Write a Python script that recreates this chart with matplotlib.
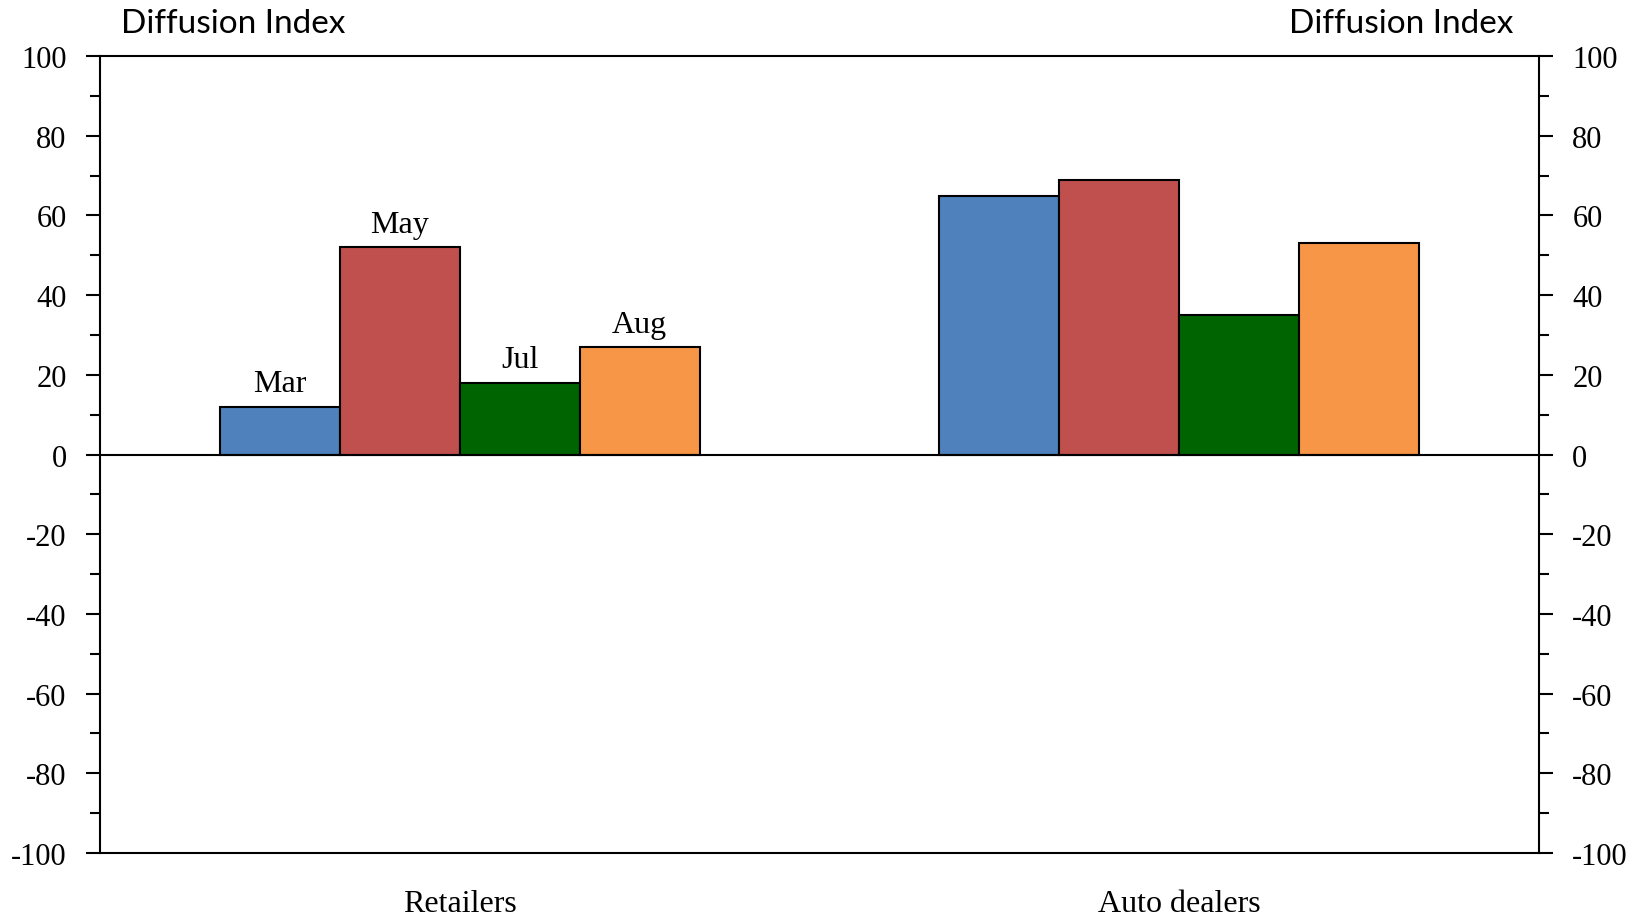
import numpy as np
import matplotlib
matplotlib.use("Agg")
import matplotlib.pyplot as plt
from matplotlib.ticker import MultipleLocator

plt.rcParams["axes.unicode_minus"] = False

# data
categories = ["Retailers", "Auto dealers"]
months = ["Mar", "May", "Jul", "Aug"]
mar = [12, 65]
may = [52, 69]
jul = [18, 35]
aug = [27, 53]
colors = ["#4F81BD", "#C0504D", "#006400", "#F79646"]

series = [mar, may, jul, aug]

fig = plt.figure(figsize=(16.37, 9.2), dpi=100)
ax = fig.add_axes([0.0611, 0.0717, 0.9401 - 0.0611, 0.938 - 0.0717])

x = np.arange(len(categories))
w = 1 / 6
for i, (vals, c) in enumerate(zip(series, colors)):
    pos = x + (i - 1.5) * w
    ax.bar(pos, vals, width=w, color=c, edgecolor="black", linewidth=1.5, zorder=2)
    # month labels only over the first group
    ax.annotate(months[i], (pos[0], vals[0]), xytext=(0, 6), textcoords="offset points",
                ha="center", va="bottom", fontsize=23, family="Liberation Serif")

ax.axhline(0, color="black", linewidth=1.5, zorder=3)
ax.set_xlim(-0.5, 1.5)
ax.set_ylim(-100, 100)

ax.yaxis.set_major_locator(MultipleLocator(20))
ax.yaxis.set_minor_locator(MultipleLocator(10))
ax.tick_params(axis="y", which="major", direction="out", length=10, width=1.5,
               labelsize=22, pad=14, left=True, right=True, labelleft=True, labelright=True)
ax.tick_params(axis="y", which="minor", direction="out", length=7, width=1.5,
               left=True, right=True)
for lab in ax.get_yticklabels():
    lab.set_family("Liberation Serif")

ax.set_xticks(x)
ax.set_xticklabels(categories, fontsize=23, family="Liberation Serif")
ax.tick_params(axis="x", length=0, pad=26)

for s in ax.spines.values():
    s.set_linewidth(1.5)

fig.text(233 / 1637, 1 - 24 / 920, "Diffusion Index", ha="center", va="center",
         fontsize=24, family="Lato")
fig.text(1401 / 1637, 1 - 24 / 920, "Diffusion Index", ha="center", va="center",
         fontsize=24, family="Lato")

fig.savefig("out.png", dpi=100)
